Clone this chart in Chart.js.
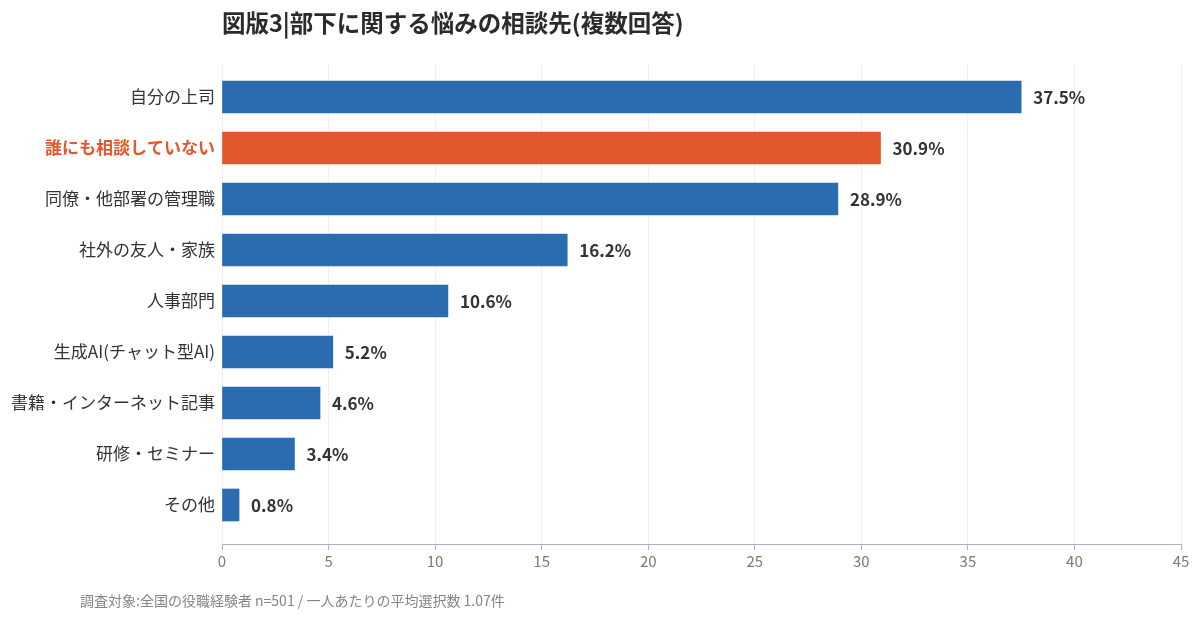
<!DOCTYPE html>
<html lang="ja">
<head>
<meta charset="utf-8">
<script src="https://cdn.jsdelivr.net/npm/chart.js@4.4.1/dist/chart.umd.min.js"></script>
<style>
  html, body { margin: 0; padding: 0; background: #ffffff; }
  #wrap { width: 1200px; height: 620px; }
</style>
</head>
<body>
<div id="wrap"><canvas id="c" width="1200" height="620"></canvas></div>
<script>
const titleText = '図版3|部下に関する悩みの相談先(複数回答)';
const footerText = '調査対象:全国の役職経験者 n=501 / 一人あたりの平均選択数 1.07件';
const categories = ['自分の上司', '誰にも相談していない', '同僚・他部署の管理職', '社外の友人・家族', '人事部門', '生成AI(チャット型AI)', '書籍・インターネット記事', '研修・セミナー', 'その他'];
const values = [37.5, 30.9, 28.9, 16.2, 10.6, 5.2, 4.6, 3.4, 0.8];
const highlightIndex = 1;
const xTicks = [0, 5, 10, 15, 20, 25, 30, 35, 40, 45];

const FONT = '"Noto Sans CJK JP", "Noto Sans", sans-serif';
const BLUE = '#2b6cb0';
const ORANGE = '#e3572f';

const points = values.map((v, i) => ({ x: v, y: i }));

const valueLabels = {
  id: 'valueLabels',
  afterDatasetsDraw(chart) {
    const ctx = chart.ctx;
    const meta = chart.getDatasetMeta(0);
    ctx.save();
    ctx.font = 'bold 17px ' + FONT;
    ctx.fillStyle = '#333333';
    ctx.textBaseline = 'middle';
    ctx.textAlign = 'left';
    meta.data.forEach((bar, i) => {
      ctx.fillText(values[i].toFixed(1) + '%', bar.x + 12, bar.y + 1);
    });
    ctx.restore();
  }
};

const texts = {
  id: 'texts',
  afterDraw(chart) {
    const ctx = chart.ctx;
    ctx.save();
    ctx.textBaseline = 'middle';
    ctx.textAlign = 'left';
    ctx.fillStyle = '#2b2b2b';
    ctx.font = 'bold 23.5px ' + FONT;
    ctx.fillText(titleText, chart.chartArea.left, 23);
    ctx.fillStyle = '#858585';
    ctx.font = '14px ' + FONT;
    ctx.fillText(footerText, 80, 601);
    ctx.restore();
  }
};

const bgPlugin = {
  id: 'bg',
  beforeDraw(chart) {
    const ctx = chart.ctx;
    ctx.save();
    ctx.fillStyle = '#ffffff';
    ctx.fillRect(0, 0, chart.width, chart.height);
    ctx.restore();
  }
};

new Chart(document.getElementById('c'), {
  type: 'bar',
  data: {
    datasets: [{
      data: points,
      backgroundColor: values.map((v, i) => i === highlightIndex ? ORANGE : BLUE),
      barThickness: 32,
      borderWidth: 0
    }]
  },
  options: {
    indexAxis: 'y',
    responsive: false,
    animation: false,
    devicePixelRatio: 1,
    layout: { padding: { top: 64, right: 19, bottom: 48, left: 0 } },
    plugins: {
      legend: { display: false },
      tooltip: { enabled: false },
      title: { display: false }
    },
    scales: {
      x: {
        type: 'linear',
        min: 0,
        max: 45,
        afterBuildTicks(scale) { scale.ticks = xTicks.map(v => ({ value: v })); },
        afterFit(scale) { scale.height = 28; },
        grid: { color: '#efeff5', tickLength: 6, tickColor: '#b0b0c0', lineWidth: 1 },
        border: { display: true, color: '#b0b0c0', width: 1 },
        ticks: { color: '#7a7a7a', font: { family: FONT, size: 15 }, padding: 2 }
      },
      y: {
        type: 'linear',
        reverse: true,
        offset: false,
        min: -0.647,
        max: 8.765,
        afterBuildTicks(scale) { scale.ticks = categories.map((c, i) => ({ value: i })); },
        afterFit(scale) { scale.width = 222; },
        grid: { display: false, drawTicks: false, offset: false },
        border: { display: false },
        ticks: {
          padding: 7,
          autoSkip: false,
          callback: (v) => categories[v],
          color: (ctx) => ctx.tick && ctx.tick.value === highlightIndex ? ORANGE : '#333333',
          font: (ctx) => ({ family: FONT, size: 17, weight: ctx.tick && ctx.tick.value === highlightIndex ? 'bold' : 'normal' })
        }
      }
    }
  },
  plugins: [bgPlugin, valueLabels, texts]
});
</script>
</body>
</html>
